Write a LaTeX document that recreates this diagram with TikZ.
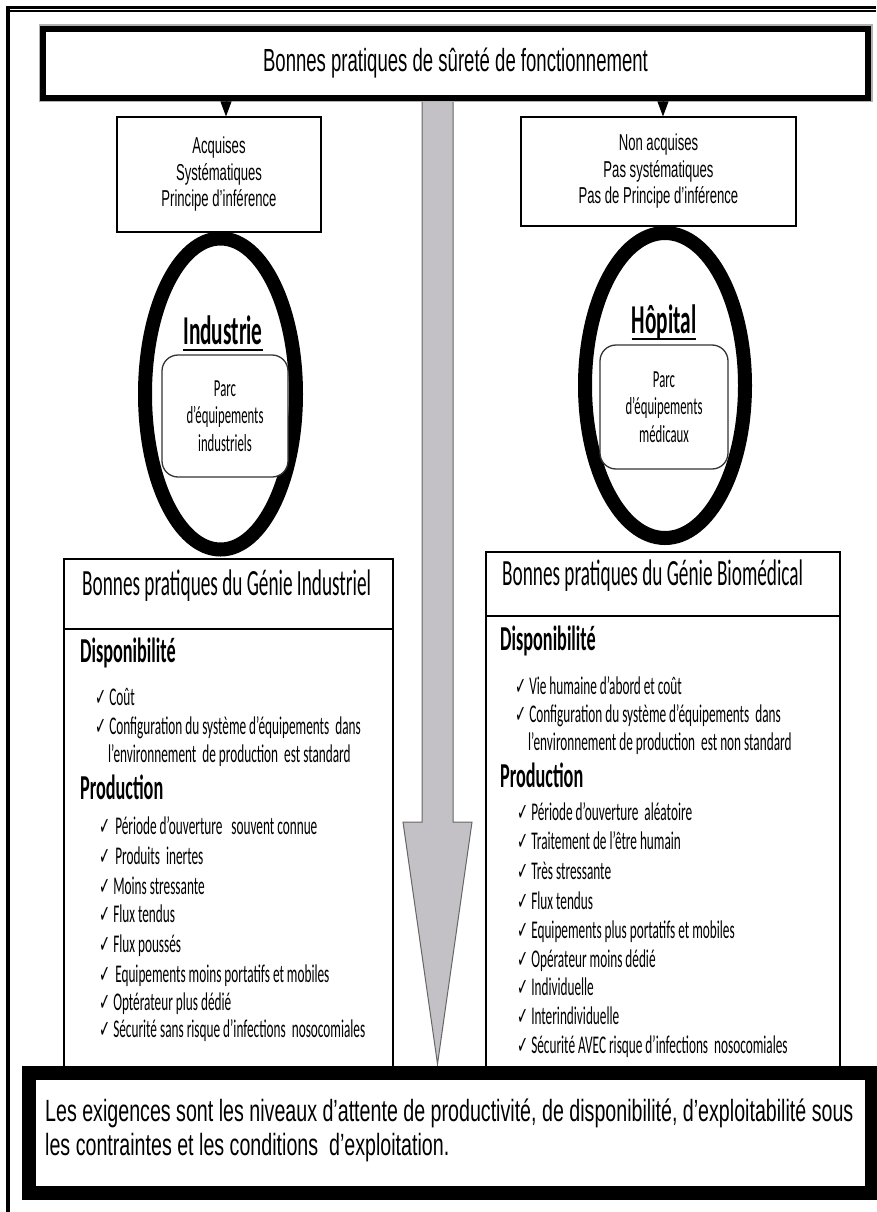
\documentclass[tikz,border=0pt]{standalone}
\usepackage{fontspec}
\usetikzlibrary{shapes.geometric,arrows.meta,calc}
% condensed faces used throughout the figure
\newfontfamily\fcal[FakeStretch=0.52]{Carlito}
\newfontfamily\fari[FakeStretch=0.64]{Liberation Sans}
\newfontfamily\ftit[FakeStretch=0.58]{Liberation Sans}
\newfontfamily\farn[FakeStretch=0.57]{Liberation Sans}
\newfontfamily\fchk[FakeStretch=0.55]{DejaVu Sans}
\newcommand\fsz[2]{\fontsize{#1}{#2}\selectfont}
\newcommand\ck{{\fchk\fsz{24}{24}✓}\hspace{3pt}}
\definecolor{arrowgray}{RGB}{195,193,198}

\begin{document}
\begin{tikzpicture}[x=1pt,y=-1pt,
  heavybox/.style={draw=black, line width=6.5pt, fill=white, inner sep=0pt,
    preaction={draw=black!30, line width=9pt}},
  thinbox/.style={draw=black, line width=1.2pt, fill=white, inner sep=0pt, align=center,
    font=\farn\fsz{23}{26.5}},
  ring/.style={ellipse, draw=black, line width=14pt, inner sep=0pt},
  parc/.style={draw=black!80, line width=1.3pt, rounded corners=16pt, fill=white,
    align=center, inner sep=0pt, font=\fcal\fsz{24.5}{27.5}},
  place/.style={anchor=center, inner sep=0pt, font=\fcal\bfseries\fsz{41}{44}},
  panel/.style={draw=black, line width=1.2pt, fill=white, inner sep=0pt},
  ptitle/.style={anchor=mid west, inner sep=0pt, font=\fcal\fsz{37}{40}},
  head/.style={anchor=mid west, inner sep=0pt, font=\fcal\bfseries\fsz{35}{38}},
  item/.style={anchor=mid west, inner sep=0pt, font=\fcal\fsz{25.5}{28}},
  tri/.style={-{Triangle[length=15pt,width=11pt]}, line width=0.8pt, draw=black, fill=black}
]
\useasboundingbox (0,0) rectangle (876,1212);

% page frame
\draw[line width=2.5pt] (6,7.5) -- (876,7.5);
\draw[line width=1.5pt] (8,11) -- (876,11);
\draw[line width=4pt] (8,6) -- (8,1212);

% large grey downward arrow
\draw[fill=arrowgray, draw=black!60, line width=1pt]
  (422,98) -- (422,822) -- (403,822) -- (437.5,1064) -- (472,822) -- (453,822) -- (453,98);

% title box
\node[heavybox, minimum width=825pt, minimum height=69pt, font=\ftit\fsz{32}{35}]
  (top) at (455.5,63.5) {Bonnes pratiques de sûreté de fonctionnement};

% characteristic boxes
\node[thinbox, minimum width=204pt, minimum height=115pt] (acq) at (219,174.5)
  {Acquises\\Systématiques\\Principe d’inférence};
\node[thinbox, minimum width=275pt, minimum height=109pt] (nacq) at (658.5,171.5)
  {Non acquises\\Pas systématiques\\Pas de Principe d’inférence};

\coordinate (la) at (226,0);
\coordinate (ra) at (663,0);
\draw[tri] (top.south -| la) -- (acq.north -| la);
\draw[tri] (top.south -| ra) -- (nacq.north -| ra);

% the two domains
\node[ring, minimum width=151pt, minimum height=311pt] (indring) at (220.5,394) {};
\node[ring, minimum width=160pt, minimum height=305pt] (hopring) at (665,385.5) {};

\node[place] (indt) at (223,330) {Industrie};
\draw[line width=2.5pt] ($(indt.base west)+(0,6)$) -- ($(indt.base east)+(0,6)$);
\node[place] (hopt) at (664,322) {Hôpital};
\draw[line width=2.5pt] ($(hopt.base west)+(0,6)$) -- ($(hopt.base east)+(0,6)$);

\node[parc, minimum width=126pt, minimum height=122pt] (indparc) at (225,416)
  {Parc\\d’équipements\\industriels};
\node[parc, minimum width=128pt, minimum height=124pt] (hopparc) at (664,407)
  {Parc\\d’équipements\\médicaux};

% left panel: industrial engineering
\node[panel, minimum width=329pt, minimum height=511pt] (lp) at (228.5,814.5) {};
\draw[line width=2pt] (64,629) -- (393,629);
\node[ptitle] (lt) at (82,593) {Bonnes pratiques du Génie Industriel};
\node[head] (lh1) at (80,660) {Disponibilité};
\node[item] (li1) at (95,703) {\ck Coût};
\node[item] (li2) at (95,732) {\ck Configuration du système d’équipements\ \ dans};
\node[item] (li3) at (108,760) {l’environnement\ \ de production\ \ est standard};
\node[head] (lh2) at (80,797) {Production};
\node[item] (lp1) at (99,832) {\ck\hspace{2pt}Période d’ouverture\ \ \ souvent connue};
\node[item] (lp2) at (99,862) {\ck\hspace{2pt}Produits\ \ inertes};
\node[item] (lp3) at (99,892) {\ck Moins stressante};
\node[item] (lp4) at (99,920) {\ck Flux tendus};
\node[item] (lp5) at (99,950) {\ck Flux poussés};
\node[item] (lp6) at (99,980) {\ck\hspace{2pt}Equipements moins portatifs et mobiles};
\node[item] (lp7) at (99,1008) {\ck Optérateur plus dédié};
\node[item] (lp8) at (99,1035) {\ck Sécurité sans risque d’infections\ \ nosocomiales};

% right panel: biomedical engineering
\node[panel, minimum width=354pt, minimum height=518pt] (rp) at (663,811) {};
\draw[line width=1.5pt] (486,616) -- (840,616);
\node[ptitle] (rt) at (502,583) {Bonnes pratiques du Génie Biomédical};
\node[head] (rh1) at (500,648) {Disponibilité};
\node[item] (ri1) at (515,692) {\ck Vie humaine d’abord et coût};
\node[item] (ri2) at (515,720) {\ck Configuration du système d’équipements\ \ dans};
\node[item] (ri3) at (528,748) {l’environnement de production\ \ est non standard};
\node[head] (rh2) at (500,785) {Production};
\node[item] (rp1) at (517,818) {\ck Période d’ouverture\ \ aléatoire};
\node[item] (rp2) at (517,847) {\ck Traitement de l’être humain};
\node[item] (rp3) at (517,877) {\ck Très stressante};
\node[item] (rp4) at (517,907) {\ck Flux tendus};
\node[item] (rp5) at (517,936) {\ck Equipements plus portatifs et mobiles};
\node[item] (rp6) at (517,965) {\ck Opérateur moins dédié};
\node[item] (rp7) at (517,993) {\ck Individuelle};
\node[item] (rp8) at (517,1022) {\ck Interindividuelle};
\node[item] (rp9) at (517,1051) {\ck Sécurité AVEC risque d’infections\ \ nosocomiales};

% requirements box
\node[draw=black, line width=14pt, fill=white, inner sep=0pt,
  minimum width=843pt, minimum height=120pt] (req) at (450,1132.5) {};
\node[anchor=west, inner sep=0pt, align=left, font=\fari\fsz{30.7}{34}] (reqtext) at (45,1130)
  {Les exigences sont les niveaux d’attente de productivité, de disponibilité, d’exploitabilité sous\\
   les contraintes et les conditions\ \ d’exploitation.};
\end{tikzpicture}
\end{document}
